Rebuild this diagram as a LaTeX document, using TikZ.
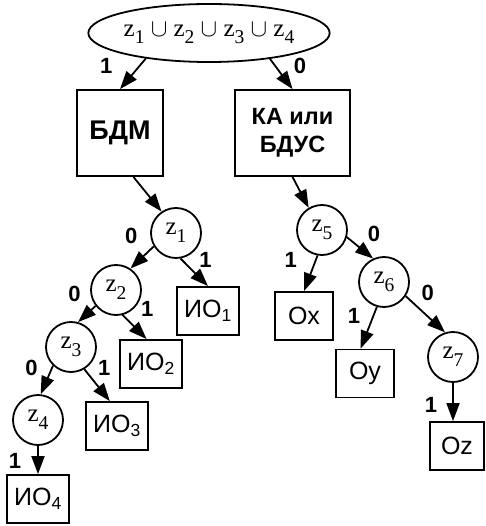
\documentclass[tikz,border=0pt]{standalone}
\usepackage{fontspec}
\setmainfont{Liberation Serif}
\setsansfont{Liberation Sans}
\usetikzlibrary{arrows.meta,shapes.geometric}
\newcommand{\zv}[1]{z\raisebox{-.3em}{\scalebox{.78}{#1}}}
\tikzset{
  cond/.style={circle, draw, line width=1.8pt, minimum size=50pt, inner sep=0pt, font=\fontsize{25}{25}\selectfont},
  unit/.style={draw, line width=1.8pt, minimum height=86pt, align=center, inner sep=0pt, font=\sffamily\bfseries\fontsize{23.5}{28}\selectfont},
  leaf/.style={draw, line width=1.8pt, minimum height=48pt, inner sep=0pt, font=\sffamily\fontsize{25}{25}\selectfont},
  branch/.style={-{Triangle[length=18pt,width=13pt]}, line width=1.8pt},
  bit/.style={font=\sffamily\bfseries\fontsize{22}{22}\selectfont, inner sep=0pt, pos=0},
}
\begin{document}
\begin{tikzpicture}[x=1pt,y=-1pt]
  \useasboundingbox (0,0) rectangle (485,526);
  \node[ellipse, draw, line width=1.8pt, minimum width=214pt, minimum height=58pt, inner sep=0pt, font=\fontsize{25}{25}\selectfont] (root) at (209,33) {\zv1 $\cup$ \zv2 $\cup$ \zv3 $\cup$ \zv4};
  \node[unit, minimum width=86pt, font=\sffamily\bfseries\fontsize{27}{28}\selectfont] (bdm) at (120,133) {БДМ};
  \node[unit, minimum width=115pt] (ka) at (292.5,133) {КА или\\БДУС};
  \node[cond] (z1) at (176,233) {\zv1};
  \node[cond] (z2) at (116,290) {\zv2};
  \node[cond] (z3) at (71,347) {\zv3};
  \node[cond] (z4) at (38,420) {\zv4};
  \node[cond] (z5) at (322,230) {\zv5};
  \node[cond] (z6) at (384,282) {\zv6};
  \node[cond] (z7) at (453,357) {\zv7};
  \node[leaf, minimum width=62pt] (io1) at (208,311) {ИО\textsubscript{1}};
  \node[leaf, minimum width=62pt] (io2) at (151,364) {ИО\textsubscript{2}};
  \node[leaf, minimum width=62pt] (io3) at (117,426) {ИО\textsubscript{3}};
  \node[leaf, minimum width=62pt] (io4) at (38,499) {ИО\textsubscript{4}};
  \node[leaf, minimum width=58pt] (ox) at (304,316) {Ox};
  \node[leaf, minimum width=58pt] (oy) at (365,373.5) {Oy};
  \node[leaf, minimum width=54pt] (oz) at (457,446) {Oz};
  \draw[branch] (root.202) -- (bdm.north) node[bit, xshift=-39.5pt, yshift=-7pt] {1};
  \draw[branch] (root.337) -- (ka.north) node[bit, xshift=30pt, yshift=-7pt] {0};
  \draw[branch] (bdm.-73) -- (z1.124);
  \draw[branch] (ka.south) -- (z5.121);
  \draw[branch] (z1.211) -- (z2.56) node[bit, xshift=-22.6pt, yshift=10pt] {0};
  \draw[branch] (z1.-80) -- (io1.north) node[bit, xshift=25pt, yshift=-1.5pt] {1};
  \draw[branch] (z2.218) -- (z3.74) node[bit, xshift=-21pt, yshift=12pt] {0};
  \draw[branch] (z2.-75) -- (io2.100) node[bit, xshift=24.5pt, yshift=6pt] {1};
  \draw[branch] (z3.226) -- (z4.84) node[bit, xshift=-21.6pt, yshift=-2pt] {0};
  \draw[branch] (z3.-59) -- (io3.106) node[bit, xshift=20pt, yshift=1.5pt] {1};
  \draw[branch] (z4) -- (io4) node[bit, xshift=-23pt, yshift=-15pt] {1};
  \draw[branch] (z5.-16) -- (z6.115) node[bit, xshift=27pt, yshift=3pt] {0};
  \draw[branch] (z5.-100) -- (ox.north) node[bit, xshift=-26.7pt, yshift=-4.4pt] {1};
  \draw[branch] (z6.-33) -- (z7.108) node[bit, xshift=22pt, yshift=3.6pt] {0};
  \draw[branch] (z6.-106) -- (oy.100) node[bit, xshift=-23pt, yshift=-9pt] {1};
  \draw[branch] (z7) -- (z7 |- oz.north) node[bit, xshift=-22pt, yshift=-22pt] {1};
\end{tikzpicture}
\end{document}
